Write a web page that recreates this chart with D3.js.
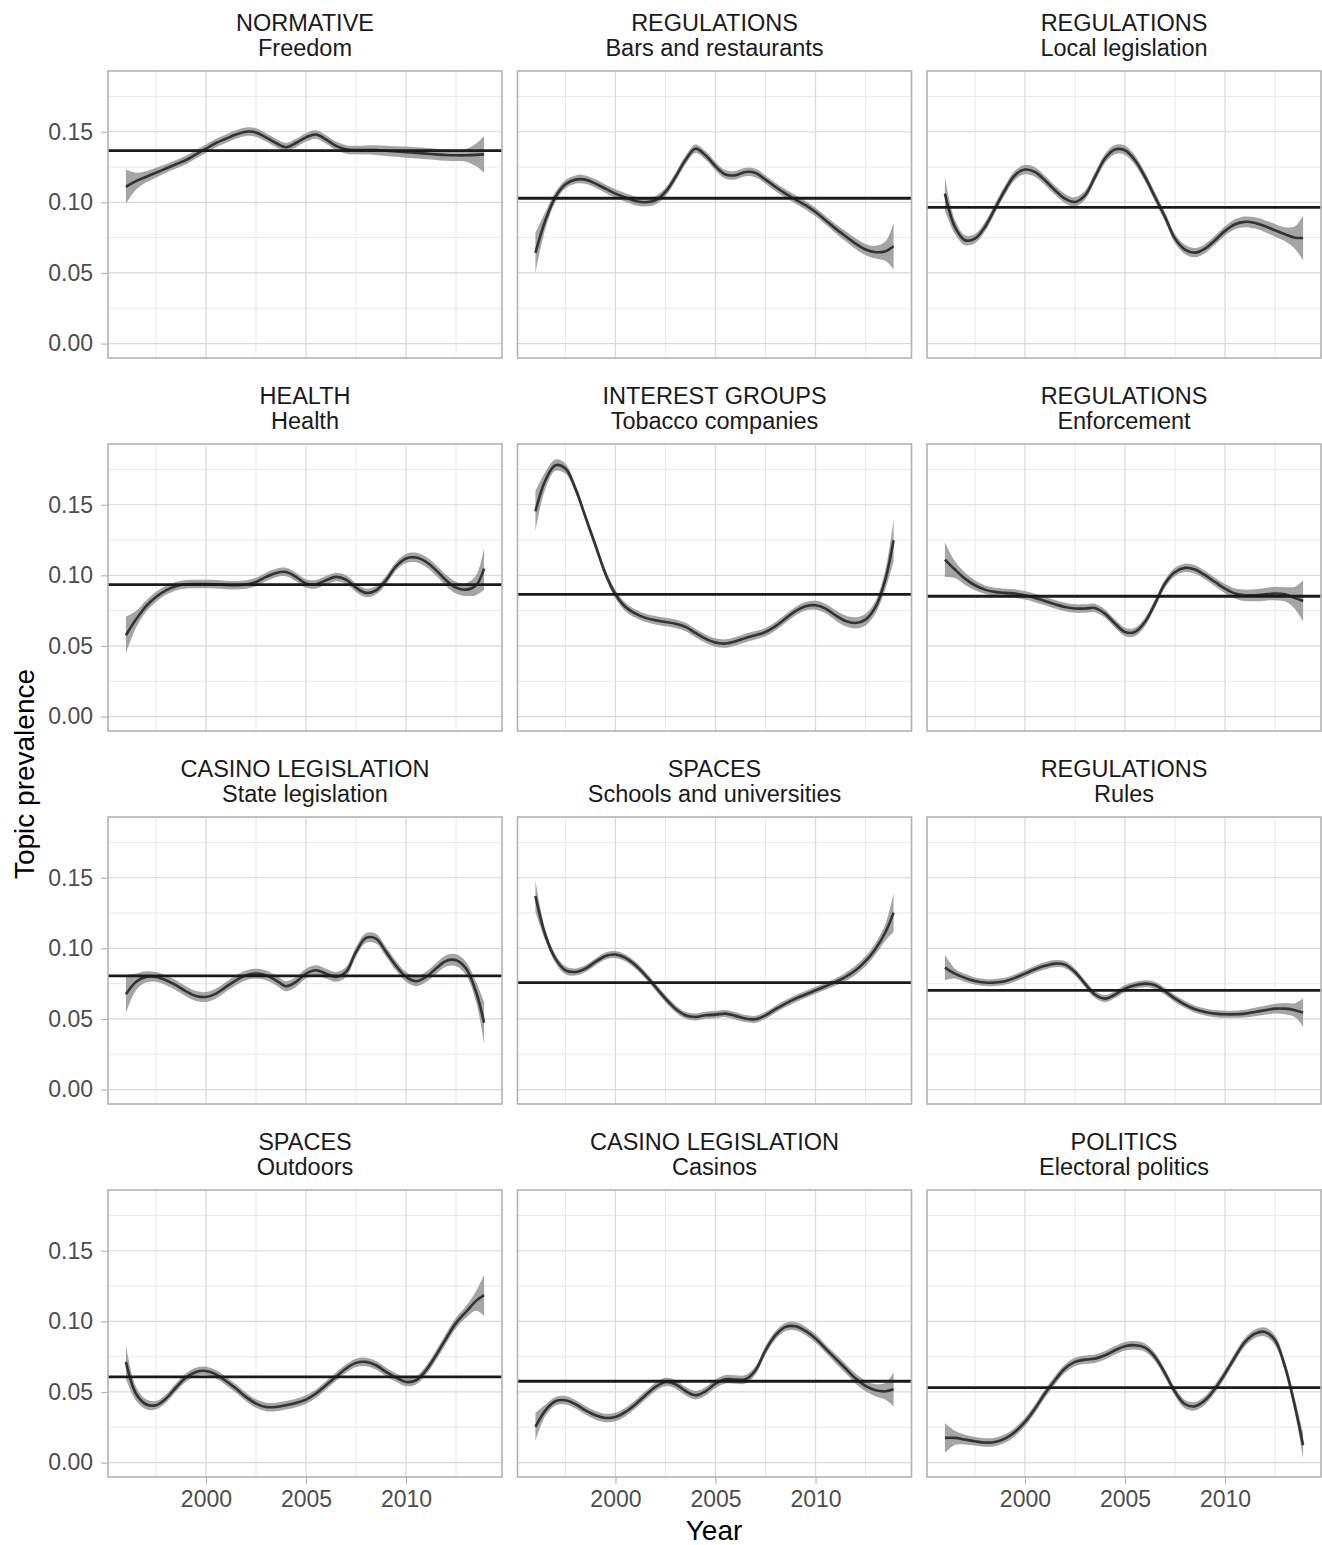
<!DOCTYPE html>
<html>
<head>
<meta charset="utf-8">
<style>
  body { margin: 0; background: #fff; }
  svg text { font-family: "Liberation Sans", Arial, Helvetica, sans-serif; }
  .strip { fill: #1a1a1a; font-size: 23.5px; }
  .axis text { fill: #4d4d4d; font-size: 23px; }
  .axis line { stroke: #b3b3b3; stroke-width: 1.1; }
  .axis path { display: none; }
  .grid-major { stroke: #d9d9d9; stroke-width: 1.2; }
  .grid-minor { stroke: #e6e6e6; stroke-width: 0.9; }
  .band { fill: #8e8e92; fill-opacity: 0.8; }
  .fit { fill: none; stroke: #333333; stroke-width: 2.6; }
  .mean { stroke: #1a1a1a; stroke-width: 2.8; }
  .border { fill: none; stroke: #b3b3b3; stroke-width: 1.6; }
  .title { fill: #000; font-size: 28px; }
</style>
</head>
<body>
<svg width="1322" height="1545"></svg>
<script src="https://cdn.jsdelivr.net/npm/d3@7"></script>
<script>

// sample years (half-year steps, last point slightly before 2014)
var years = [
  1996, 1996.5, 1997, 1997.5, 1998, 1998.5, 1999, 1999.5, 2000, 2000.5,
  2001, 2001.5, 2002, 2002.5, 2003, 2003.5, 2004, 2004.5, 2005, 2005.5,
  2006, 2006.5, 2007, 2007.5, 2008, 2008.5, 2009, 2009.5, 2010, 2010.5,
  2011, 2011.5, 2012, 2012.5, 2013, 2013.5, 2013.9
];

var groups = ["NORMATIVE", "REGULATIONS", "REGULATIONS",
              "HEALTH", "INTEREST GROUPS", "REGULATIONS",
              "CASINO LEGISLATION", "SPACES", "REGULATIONS",
              "SPACES", "CASINO LEGISLATION", "POLITICS"];

var topics = ["Freedom", "Bars and restaurants", "Local legislation",
              "Health", "Tobacco companies", "Enforcement",
              "State legislation", "Schools and universities", "Rules",
              "Outdoors", "Casinos", "Electoral politics"];

var means = [0.1366, 0.1029, 0.0965, 0.0935, 0.0866, 0.0852,
             0.0805, 0.0758, 0.0703, 0.0607, 0.0576, 0.0531];

var yTicks = [0, 0.05, 0.10, 0.15];
var yMinor = [0.025, 0.075, 0.125, 0.175];
var xTicks = [2000, 2005, 2010];
var xMinor = [1997.5, 2002.5, 2007.5, 2012.5];

// smoothed prevalence and half-width of the confidence band
var fitFreedom = [
  .111, .115, .118, .121, .124, .127, .130, .134, .138, .142,
  .145, .148, .150, .1495, .146, .142, .139, .142, .146, .148,
  .1445, .140, .1375, .137, .137, .137, .1365, .136, .1355, .135,
  .1345, .134, .1335, .1333, .1333, .1336, .134];
var bandFreedom = [
  .012, .006, .004, .0035, .003, .003, .003, .003, .003, .003,
  .003, .003, .003, .003, .003, .003, .003, .003, .003, .003,
  .003, .003, .003, .003, .0032, .0034, .0036, .0038, .004, .004,
  .004, .004, .004, .004, .0045, .008, .013];

var fitBars = [
  .0642, .0873, .1038, .1128, .1161, .1161, .1133, .1097, .1062, .1034,
  .1010, .1001, .1015, .1074, .118, .130, .138, .1333, .1256, .1197,
  .1192, .1215, .1208, .1161, .1109, .1062, .1020, .098, .0932, .0873,
  .0814, .076, .0708, .0666, .0647, .0654, .0689];
var bandBars = [
  .014, .006, .0035, .003, .003, .003, .003, .003, .003, .003,
  .003, .003, .003, .003, .003, .003, .003, .003, .003, .003,
  .003, .003, .003, .003, .003, .003, .003, .003, .003, .003,
  .0032, .0035, .0038, .004, .0045, .007, .0165];

var fitLocal = [
  .1062, .0826, .0732, .0743, .0826, .0956, .1086, .1192, .1232, .1215,
  .1156, .1086, .1027, .1003, .105, .118, .131, .1374, .1369, .1298,
  .118, .1038, .0897, .0743, .0666, .0644, .0673, .0732, .0798, .0845,
  .0862, .0854, .0831, .0802, .0774, .075, .0748];
var bandLocal = [
  .012, .005, .0035, .0033, .0033, .0033, .0033, .0033, .0033, .0033,
  .0033, .0033, .0033, .0033, .0033, .0033, .0033, .0033, .0033, .0033,
  .0033, .0033, .0033, .0033, .0033, .0033, .0033, .0033, .0033, .0035,
  .0038, .004, .0042, .0045, .005, .008, .016];

var fitHealth = [
  .0576, .0687, .0781, .0847, .0894, .0923, .0937, .0939, .0939, .0937,
  .0932, .093, .0935, .0953, .0989, .1017, .1024, .0989, .0942, .0937,
  .0965, .0989, .097, .0913, .0876, .0894, .0965, .1064, .1119, .1126,
  .1095, .1036, .0965, .0913, .0899, .093, .1048];
var bandHealth = [
  .013, .006, .004, .0035, .0032, .003, .003, .003, .003, .003,
  .003, .003, .003, .003, .003, .003, .003, .003, .003, .003,
  .003, .003, .003, .003, .003, .003, .003, .003, .0032, .0034,
  .0036, .0038, .004, .0042, .0045, .007, .015];

var fitTobacco = [
  .1454, .1673, .178, .1756, .1614, .1414, .1213, .1012, .0866, .0776,
  .0729, .0699, .0682, .067, .0658, .0635, .0592, .0552, .0524, .0517,
  .0533, .0557, .0576, .0599, .064, .0694, .0746, .0781, .0788, .0765,
  .0717, .0677, .0663, .0687, .0776, .0977, .1248];
var bandTobacco = [
  .014, .006, .004, .0035, .003, .003, .003, .003, .003, .003,
  .003, .003, .003, .003, .003, .003, .003, .003, .003, .003,
  .003, .003, .003, .003, .003, .003, .003, .003, .0032, .0034,
  .0036, .0038, .004, .0042, .0045, .007, .015];

var fitEnforcement = [
  .1112, .1041, .0977, .093, .0899, .0883, .0876, .0871, .0859, .084,
  .0819, .0795, .0776, .0765, .0765, .0769, .0729, .0659, .0599, .0599,
  .067, .08, .0942, .1024, .1053, .1041, .1001, .0953, .0906, .0871,
  .0859, .0859, .0866, .0871, .0866, .084, .0819];
var bandEnforcement = [
  .0123, .006, .0043, .0035, .003, .003, .003, .003, .003, .003,
  .003, .003, .003, .003, .003, .003, .003, .003, .003, .003,
  .003, .003, .003, .003, .003, .003, .003, .003, .0033, .0036,
  .004, .0043, .0045, .0048, .005, .008, .0146];

var fitState = [
  .0675, .0762, .0798, .0798, .0774, .0739, .0696, .0663, .0656, .068,
  .0727, .0774, .0809, .0821, .0809, .0774, .0732, .0762, .0821, .0845,
  .0821, .0798, .0833, .0975, .1074, .1069, .0975, .0876, .0798, .0767,
  .0798, .0857, .0911, .0916, .0857, .0691, .0474];
var bandState = [
  .0135, .006, .004, .0035, .0035, .0035, .0035, .0035, .0035, .0035,
  .0035, .0035, .0035, .0035, .0035, .0035, .0035, .0035, .0035, .0035,
  .0035, .0035, .0035, .0035, .0035, .0035, .0035, .0035, .0035, .0035,
  .0036, .0038, .004, .0042, .0047, .007, .0146];

var fitSchools = [
  .1371, .1093, .0927, .0845, .0833, .0857, .0904, .0946, .0956, .0932,
  .088, .0809, .0727, .0644, .0573, .0526, .0514, .0526, .0531, .0538,
  .0522, .0503, .0498, .0526, .0569, .0609, .0644, .0673, .0703, .0732,
  .0762, .0798, .0845, .0909, .0998, .1116, .1253];
var bandSchools = [
  .011, .004, .003, .0028, .0025, .0025, .0025, .0025, .0025, .0025,
  .0025, .0025, .0025, .0025, .0025, .0025, .0025, .0025, .0025, .0025,
  .0025, .0025, .0025, .0025, .0025, .0025, .0025, .0025, .0025, .0025,
  .0027, .003, .0033, .0036, .004, .006, .0135];

var fitRules = [
  .0864, .0821, .0791, .0769, .0758, .0758, .0767, .0791, .0821, .0852,
  .0876, .0892, .0885, .0833, .075, .0673, .0644, .0673, .0715, .0739,
  .075, .0739, .0696, .0644, .0602, .0569, .055, .0538, .0533, .0533,
  .0538, .055, .0562, .0573, .0573, .0562, .0545];
var bandRules = [
  .009, .0035, .003, .0025, .0025, .0025, .0025, .0025, .0025, .0025,
  .0025, .0025, .0025, .0025, .0025, .0025, .0025, .0025, .0025, .0025,
  .0025, .0025, .0025, .0025, .0025, .0025, .0025, .0025, .0025, .0025,
  .0027, .003, .0032, .0035, .004, .005, .010];

var fitOutdoors = [
  .0713, .0489, .0413, .0406, .0453, .0531, .0602, .0642, .0649, .0625,
  .0578, .0524, .0465, .0418, .0394, .0394, .0406, .0422, .0446, .0489,
  .0548, .0607, .0666, .0706, .0713, .0689, .0642, .0602, .0571, .0583,
  .0654, .076, .0878, .0989, .1067, .1145, .1185];
var bandOutdoors = [
  .012, .005, .0035, .003, .003, .003, .003, .003, .003, .003,
  .003, .003, .003, .003, .003, .003, .003, .003, .003, .003,
  .003, .003, .003, .003, .003, .003, .003, .003, .003, .003,
  .0032, .0034, .0036, .0038, .0042, .007, .0145];

var fitCasinos = [
  .0253, .037, .0434, .0441, .0413, .037, .0335, .0316, .0323, .0359,
  .0413, .0477, .0536, .0571, .0555, .0507, .0477, .0505, .0559, .059,
  .0588, .059, .0654, .0795, .0902, .0961, .0965, .0932, .0878, .0807,
  .0736, .0666, .0595, .0543, .0512, .0505, .0519];
var bandCasinos = [
  .010, .004, .003, .003, .003, .003, .003, .003, .003, .003,
  .003, .003, .003, .003, .003, .003, .003, .003, .003, .003,
  .003, .003, .003, .003, .003, .003, .003, .003, .003, .003,
  .0032, .0034, .0036, .0038, .0042, .006, .012];

var fitElectoral = [
  .0175, .0175, .0163, .0151, .0142, .0146, .017, .0217, .0288, .0382,
  .0489, .0583, .0666, .0713, .0729, .0736, .076, .0795, .0824, .0831,
  .0814, .0748, .0631, .0501, .0413, .0399, .0441, .0524, .0631, .0748,
  .0854, .0913, .0925, .0866, .0677, .0394, .0123];
var bandElectoral = [
  .0106, .005, .0035, .003, .003, .003, .003, .003, .003, .003,
  .003, .003, .003, .003, .003, .003, .003, .003, .003, .003,
  .003, .003, .003, .003, .003, .003, .003, .003, .003, .003,
  .003, .003, .0032, .0035, .0038, .005, .009];

var fits = [fitFreedom, fitBars, fitLocal, fitHealth, fitTobacco, fitEnforcement,
            fitState, fitSchools, fitRules, fitOutdoors, fitCasinos, fitElectoral];
var bands = [bandFreedom, bandBars, bandLocal, bandHealth, bandTobacco, bandEnforcement,
             bandState, bandSchools, bandRules, bandOutdoors, bandCasinos, bandElectoral];

var svg = d3.select("svg"),
    panel = {left: 108, top: 71, width: 394, height: 287, dx: 409.5, dy: 373},
    ncol = 3;

// ggplot style 5% expansion of the year range
var xr = d3.extent(years), pad = (xr[1] - xr[0]) * 0.05;
var x = d3.scaleLinear().domain([xr[0] - pad, xr[1] + pad]).range([0, panel.width]);
var y = d3.scaleLinear().domain([-0.0102, 0.193]).range([panel.height, 0]);

var line = d3.line()
    .x(function(d) { return x(d.year); })
    .y(function(d) { return y(d.fit); })
    .curve(d3.curveCatmullRom);

var area = d3.area()
    .x(function(d) { return x(d.year); })
    .y0(function(d) { return y(d.fit - d.se); })
    .y1(function(d) { return y(d.fit + d.se); })
    .curve(d3.curveCatmullRom);

topics.forEach(function(topic, i) {
  var col = i % ncol, row = Math.floor(i / ncol);
  var g = svg.append("g")
      .attr("transform", "translate(" + (panel.left + col * panel.dx) + "," + (panel.top + row * panel.dy) + ")");

  var data = years.map(function(yr, j) {
    return {year: yr, fit: fits[i][j], se: bands[i][j]};
  });

  // grid
  g.selectAll(".gy-minor").data(yMinor).enter().append("line")
      .attr("class", "grid-minor")
      .attr("x1", 0).attr("x2", panel.width)
      .attr("y1", y).attr("y2", y);
  g.selectAll(".gx-minor").data(xMinor).enter().append("line")
      .attr("class", "grid-minor")
      .attr("y1", 0).attr("y2", panel.height)
      .attr("x1", x).attr("x2", x);
  g.selectAll(".gy").data(yTicks).enter().append("line")
      .attr("class", "grid-major")
      .attr("x1", 0).attr("x2", panel.width)
      .attr("y1", y).attr("y2", y);
  g.selectAll(".gx").data(xTicks).enter().append("line")
      .attr("class", "grid-major")
      .attr("y1", 0).attr("y2", panel.height)
      .attr("x1", x).attr("x2", x);

  g.append("path").datum(data).attr("class", "band").attr("d", area);
  g.append("path").datum(data).attr("class", "fit").attr("d", line);

  g.append("line")
      .attr("class", "mean")
      .attr("x1", 0).attr("x2", panel.width)
      .attr("y1", y(means[i])).attr("y2", y(means[i]));

  g.append("rect")
      .attr("class", "border")
      .attr("width", panel.width)
      .attr("height", panel.height);

  // strip labels
  g.append("text").attr("class", "strip")
      .attr("x", panel.width / 2).attr("y", -40)
      .attr("text-anchor", "middle")
      .text(groups[i]);
  g.append("text").attr("class", "strip")
      .attr("x", panel.width / 2).attr("y", -15)
      .attr("text-anchor", "middle")
      .text(topic);

  if (col === 0) {
    g.append("g")
        .attr("class", "axis")
        .call(d3.axisLeft(y).tickValues(yTicks).tickFormat(d3.format(".2f")).tickSize(7).tickPadding(8));
  }
  if (row === 3) {
    g.append("g")
        .attr("class", "axis")
        .attr("transform", "translate(0," + panel.height + ")")
        .call(d3.axisBottom(x).tickValues(xTicks).tickFormat(d3.format("d")).tickSize(7).tickPadding(7));
  }
});

svg.append("text")
    .attr("class", "title")
    .attr("transform", "translate(34,774) rotate(-90)")
    .attr("text-anchor", "middle")
    .text("Topic prevalence");

svg.append("text")
    .attr("class", "title")
    .attr("x", 714).attr("y", 1540)
    .attr("text-anchor", "middle")
    .text("Year");

</script>
</body>
</html>
